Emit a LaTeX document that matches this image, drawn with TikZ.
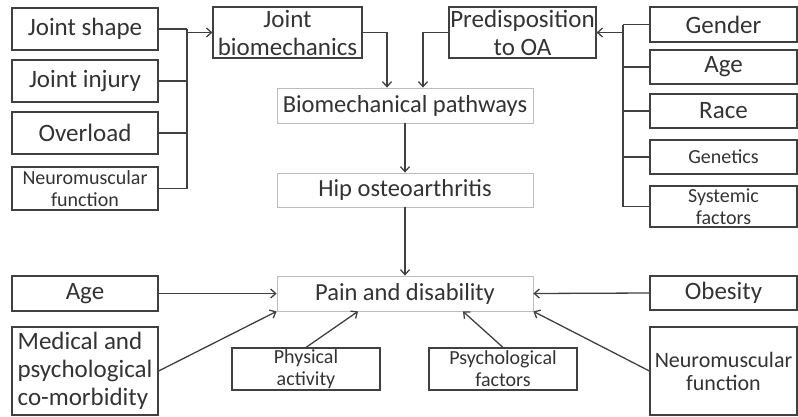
\documentclass[tikz,border=0pt]{standalone}
\usepackage{fontspec}
\setmainfont{Carlito}
\usetikzlibrary{arrows.meta}
\definecolor{ink}{HTML}{333333}
\definecolor{edge}{HTML}{404040}
\definecolor{light}{HTML}{BDBDBD}
\tikzset{
  base/.style={rectangle, inner sep=0pt, align=center, text=ink, line width=1.2pt},
  bigbox/.style={base, draw=edge, font=\fontsize{25}{28}\selectfont},
  smallbox/.style={base, draw=edge, font=\fontsize{20}{22}\selectfont},
  midbox/.style={base, draw=edge, font=\fontsize{22}{23}\selectfont},
  flowbox/.style={base, draw=light, line width=0.8pt, font=\fontsize{24.5}{28}\selectfont},
  ln/.style={draw=edge, line width=1.3pt},
  arr/.style={ln, -{Straight Barb[length=5pt,width=9pt]}},
}
\begin{document}
\begin{tikzpicture}[x=1pt,y=-1pt]
\useasboundingbox (0,0) rectangle (798,416);
% left column
\node[bigbox, minimum width=146pt, minimum height=42pt] (js) at (85,29) {Joint shape};
\node[bigbox, minimum width=146pt, minimum height=42pt] (ji) at (85,81) {Joint injury};
\node[bigbox, minimum width=146pt, minimum height=42pt] (ol) at (85,133) {Overload};
\node[smallbox, minimum width=146pt, minimum height=43pt] (nm) at (85,188.5) {Neuromuscular\\function};
% top middle
\node[bigbox, minimum width=149pt, minimum height=51pt] (jb) at (287.5,32.5) {Joint\\biomechanics};
\node[bigbox, minimum width=147pt, minimum height=51pt] (pd) at (522.5,32.5) {Predisposition\\to OA};
% central flow
\node[flowbox, minimum width=256pt, minimum height=35pt] (bp) at (405,105.5) {Biomechanical pathways};
\node[flowbox, minimum width=256pt, minimum height=34pt] (ho) at (405,190) {Hip osteoarthritis};
\node[flowbox, minimum width=256pt, minimum height=35pt] (pn) at (405,293.5) {Pain and disability};
% right column
\node[bigbox, minimum width=147pt, minimum height=35pt] (gd) at (723.5,24.5) {Gender};
\node[bigbox, minimum width=147pt, minimum height=34pt] (ag) at (723.5,67) {Age};
\node[bigbox, minimum width=147pt, minimum height=34pt] (rc) at (723.5,111) {Race};
\node[smallbox, minimum width=147pt, minimum height=34pt] (gn) at (723.5,157) {Genetics};
\node[smallbox, minimum width=147pt, minimum height=41pt] (sy) at (723.5,206.5) {Systemic\\factors};
% bottom row
\node[bigbox, minimum width=146pt, minimum height=35pt] (ag2) at (85,293.5) {Age};
\node[bigbox, minimum width=146pt, minimum height=88pt, align=left] (md) at (85,371) {Medical and\\psychological\\co-morbidity};
\node[smallbox, minimum width=148pt, minimum height=42pt] (pa) at (306,369) {Physical\\activity};
\node[smallbox, minimum width=148pt, minimum height=42pt] (ps) at (503,369) {Psychological\\factors};
\node[bigbox, minimum width=147pt, minimum height=34pt] (ob) at (723.5,293) {Obesity};
\node[midbox, minimum width=147pt, minimum height=88pt] (nr) at (723.5,371) {Neuromuscular\\function};
% helper coordinates
\coordinate (lj) at (187,0);
\coordinate (rj) at (623,0);
\coordinate (c1) at (387,0);
\coordinate (c2) at (423,0);
\coordinate (t1) at (358,0);
\coordinate (t2) at (463,0);
% left bracket
\draw[ln] (js.east) -- (js.east -| lj);
\draw[ln] (ji.east) -- (ji.east -| lj);
\draw[ln] (ol.east) -- (ol.east -| lj);
\draw[ln] (nm.east) -- (nm.east -| lj);
\draw[ln] (js.east -| lj) -- (nm.east -| lj);
\draw[arr] (jb.west -| lj) -- (jb.west);
% right bracket
\draw[ln] (gd.west) -- (gd.west -| rj);
\draw[ln] (ag.west) -- (ag.west -| rj);
\draw[ln] (rc.west) -- (rc.west -| rj);
\draw[ln] (gn.west) -- (gn.west -| rj);
\draw[ln] (sy.west) -- (sy.west -| rj);
\draw[ln] (gd.west -| rj) -- (sy.west -| rj);
\draw[arr] (pd.east -| rj) -- (pd.east);
% into pathways
\draw[arr] (jb.east) -| (c1 |- bp.north);
\draw[arr] (pd.west) -| (c2 |- bp.north);
% central flow
\draw[arr] (bp.south) -- (ho.north);
\draw[arr] (ho.south) -- (pn.north);
% bottom arrows
\draw[arr] (ag2.east) -- (pn.west);
\draw[arr] (ob.west) -- (pn.east);
\draw[arr] (md.east) -- (pn.south west);
\draw[arr] (pa.north) -- (t1 |- pn.south);
\draw[arr] (ps.north) -- (t2 |- pn.south);
\draw[arr] (nr.west) -- (pn.south east);
\end{tikzpicture}
\end{document}
